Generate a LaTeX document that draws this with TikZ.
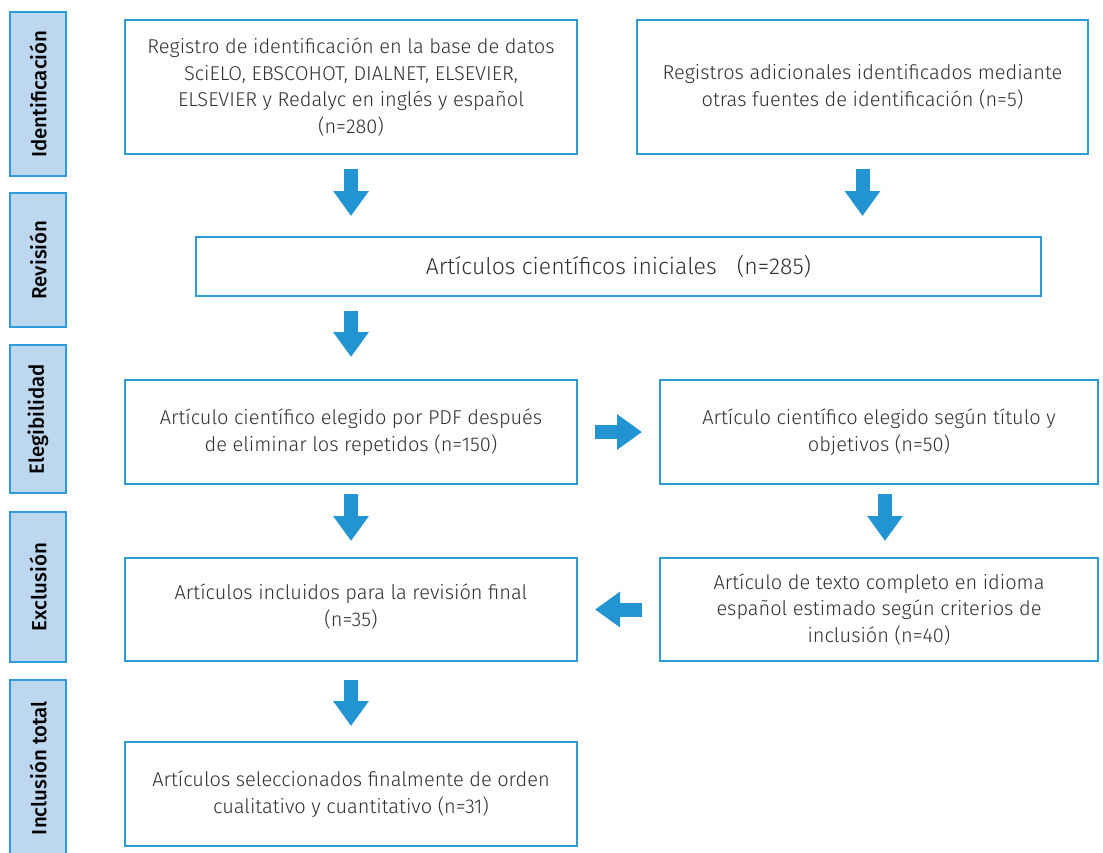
\documentclass[tikz,border=0pt]{standalone}
\usepackage{fontspec}
\setmainfont{Fira Sans Light}
\newfontfamily\labelfont{Fira Sans Medium}
\usetikzlibrary{arrows.meta}
\definecolor{bblue}{HTML}{2E9BD9}
\definecolor{ablue}{HTML}{2394D2}
\definecolor{sidefill}{HTML}{BDD7EE}
\definecolor{txt}{HTML}{303030}
\tikzset{
  box/.style={draw=bblue, line width=2pt, fill=white, align=center, text=txt,
    font=\fontsize{20}{26.5}\selectfont, inner sep=0pt},
  side/.style={draw=bblue, line width=2pt, fill=sidefill, minimum width=56pt, inner sep=0pt},
  sidelabel/.style={rotate=90, text=black, font=\labelfont\fontsize{20.5}{22}\selectfont},
  fatarrow/.style={draw=ablue, line width=14pt, line cap=butt, -{Triangle[width=34pt,length=25pt]}},
}
\begin{document}
\begin{tikzpicture}[x=1pt,y=-1pt]
\useasboundingbox (0,0) rectangle (1103,852);
% sidebar
\node[side, minimum height=164pt] (s1) at (38,94) {};
\node[sidelabel] (l1) at (38,94) {Identificación};
\node[side, minimum height=134pt] (s2) at (38,260) {};
\node[sidelabel] (l2) at (38,260) {Revisión};
\node[side, minimum height=148pt] (s3) at (38,419) {};
\node[sidelabel] (l3) at (38,419) {Elegibilidad};
\node[side, minimum height=150pt] (s4) at (38,587) {};
\node[sidelabel] (l4) at (38,587) {Exclusión};
\node[side, minimum height=180pt] (s5) at (38,770) {};
\node[sidelabel] (l5) at (38,768) {Inclusión total};
% boxes
\node[box, minimum width=452pt, minimum height=134pt] (b1) at (351,87)
  {Registro de identificación en la base de datos\\ SciELO, EBSCOHOT, DIALNET, ELSEVIER,\\ ELSEVIER y Redalyc en inglés y español\\ (n=280)};
\node[box, minimum width=451pt, minimum height=134pt] (b2) at (862.5,87)
  {Registros adicionales identificados mediante\\ otras fuentes de identificación (n=5)};
\node[box, minimum width=845pt, minimum height=59pt, font=\fontsize{23}{26}\selectfont] (b3) at (618.5,266.5)
  {Artículos científicos iniciales\hspace{0.6em} (n=285)};
\node[box, minimum width=452pt, minimum height=104pt] (b4) at (351,432)
  {Artículo científico elegido por PDF después\\ de eliminar los repetidos (n=150)};
\node[box, minimum width=438pt, minimum height=104pt] (b5) at (879,432)
  {Artículo científico elegido según título y\\ objetivos (n=50)};
\node[box, minimum width=438pt, minimum height=103pt] (b6) at (879,609.5)
  {Artículo de texto completo en idioma\\ español estimado según criterios de\\ inclusión (n=40)};
\node[box, minimum width=452pt, minimum height=103pt] (b7) at (351,609.5) {};
\node[align=center, text=txt, font=\fontsize{20}{26.5}\selectfont, inner sep=0pt] (t7) at (351,606.5)
  {Artículos incluidos para la revisión final\\ (n=35)};
\node[box, minimum width=452pt, minimum height=104pt] (b8) at (351,794)
  {Artículos seleccionados finalmente de orden\\ cualitativo y cuantitativo (n=31)};
% arrows
\draw[fatarrow, shorten <=14pt, shorten >=20pt] (b1.south) -- (b1.south |- b3.north);
\draw[fatarrow, shorten <=14pt, shorten >=20pt] (b2.south) -- (b2.south |- b3.north);
\draw[fatarrow, shorten <=14pt, shorten >=22pt] (b4.north |- b3.south) -- (b4.north);
\draw[fatarrow, shorten <=9pt, shorten >=16pt] (b4.south) -- (b7.north);
\draw[fatarrow, shorten <=9pt, shorten >=16pt] ([xshift=6pt]b5.south) -- ([xshift=6pt]b6.north);
\draw[fatarrow, shorten <=17pt, shorten >=17pt] (b4.east) -- (b5.west);
\draw[fatarrow, shorten <=17pt, shorten >=17pt] (b6.west) -- (b7.east);
\draw[fatarrow, shorten <=18pt, shorten >=15pt] (b7.south) -- (b8.north);
\end{tikzpicture}
\end{document}
